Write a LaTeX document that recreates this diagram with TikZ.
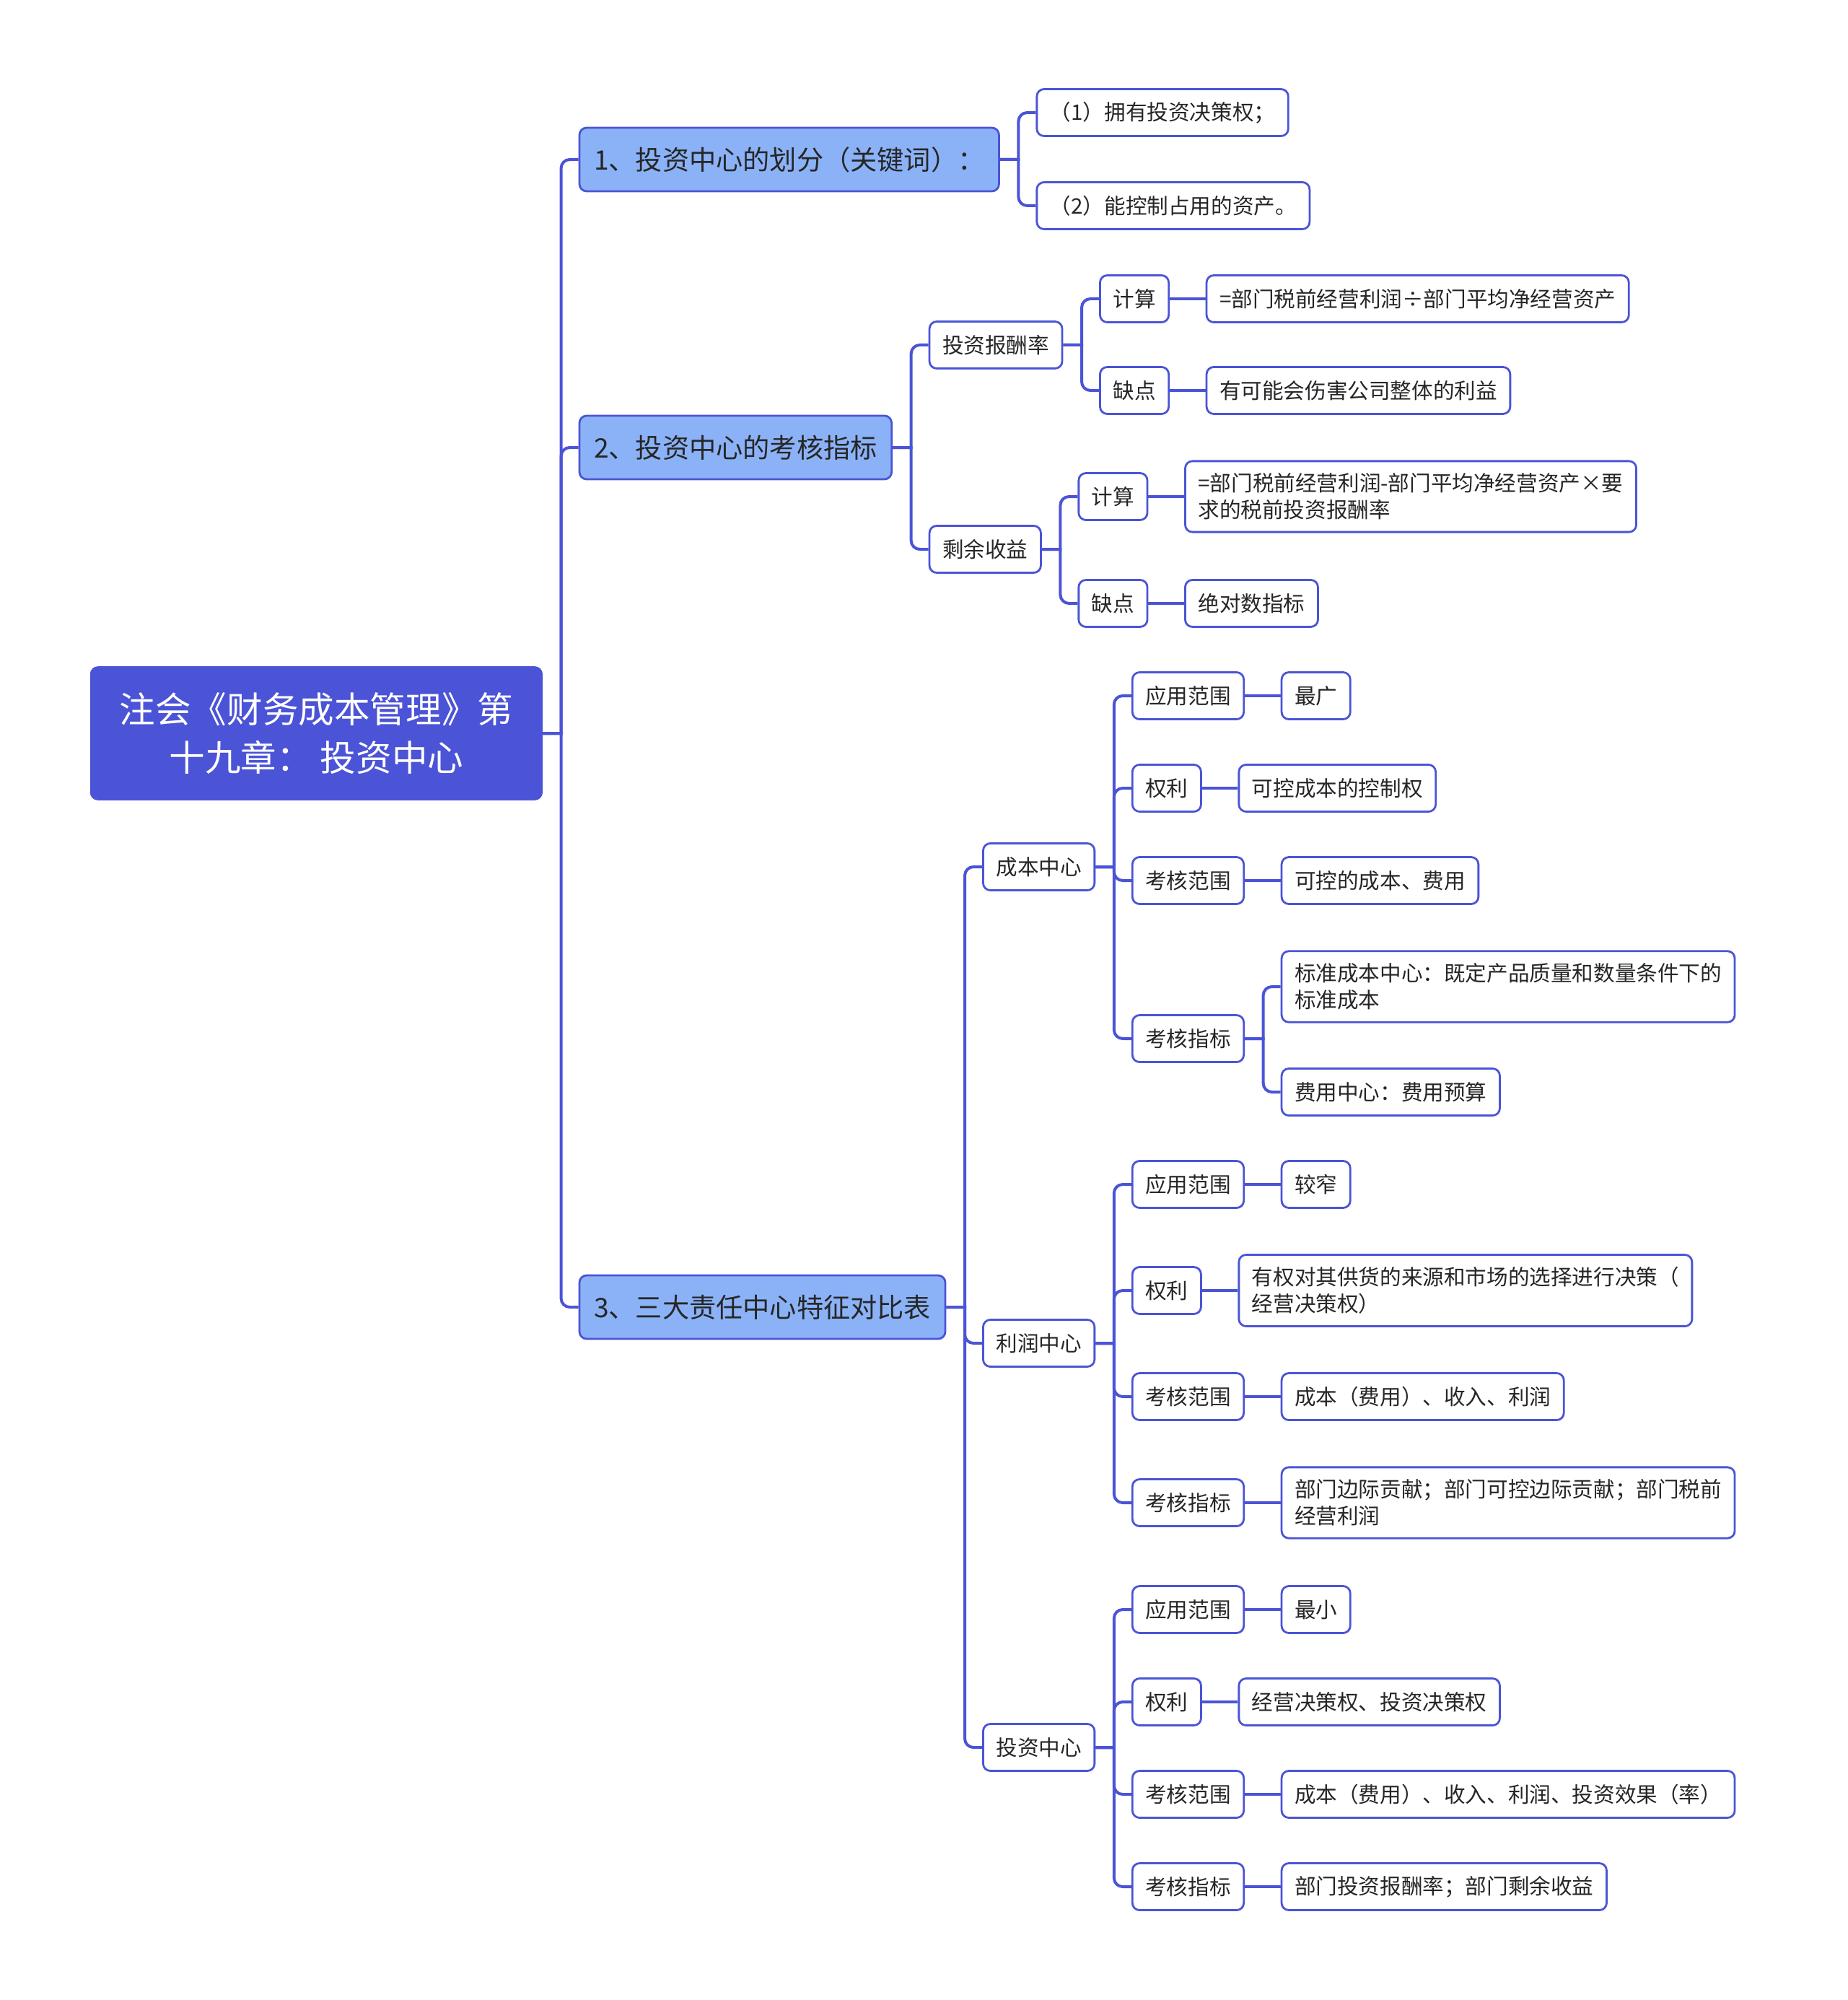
\documentclass[tikz,border=0pt]{standalone}
\usepackage{fontspec}
\setmainfont{Noto Sans CJK SC}
\definecolor{deepblue}{RGB}{75,84,214}
\definecolor{skyblue}{RGB}{139,178,247}
\definecolor{inkgray}{RGB}{38,38,38}
\colorlet{edge}{deepblue}
\usetikzlibrary{positioning}

\begin{document}
\begin{tikzpicture}[
  rootbox/.style={fill=deepblue, draw=deepblue, text=white, rounded corners=2.5pt,
    align=center, inner xsep=10pt, minimum height=46pt,
    font=\fontsize{12.4}{16.8}\selectfont},
  topicbox/.style={fill=skyblue, draw=edge, line width=0.7pt, text=inkgray,
    rounded corners=2.5pt, inner xsep=5pt, minimum height=22pt,
    font=\fontsize{9.3}{11}\selectfont},
  itembox/.style={fill=white, draw=edge, line width=0.7pt, text=inkgray,
    rounded corners=2.5pt, inner xsep=4.5pt, inner ysep=4.2pt, minimum height=16.25pt,
    align=left, font=\fontsize{7.4}{9.3}\selectfont},
  link/.style={draw=edge, line width=1pt},
  node distance=12.4pt,
]
  \useasboundingbox (0,0) rectangle (640pt,-692.75pt);

  % root and first level
  \node[rootbox] (root) at (109.6pt,-254pt) {注会《财务成本管理》第\\十九章： 投资中心};
  \node[topicbox, right=of root, yshift=198.75pt] (t1) {1、投资中心的划分（关键词）：};
  \node[topicbox, right=of root, yshift=99pt] (t2) {2、投资中心的考核指标};
  \node[topicbox, right=of root, yshift=-198.75pt] (t3) {3、三大责任中心特征对比表};

  % 1
  \node[itembox, right=of t1, yshift=16.25pt] (t1a) {（1）拥有投资决策权；};
  \node[itembox, right=of t1, yshift=-16pt] (t1b) {（2）能控制占用的资产。};

  % 2
  \node[itembox, right=of t2, yshift=35.5pt] (roi) {投资报酬率};
  \node[itembox, right=of roi, yshift=16pt] (roiA) {计算};
  \node[itembox, right=of roi, yshift=-15.75pt] (roiB) {缺点};
  \node[itembox, right=of roiA] (roiAx) {=部门税前经营利润÷部门平均净经营资产};
  \node[itembox, right=of roiB] (roiBx) {有可能会伤害公司整体的利益};
  \node[itembox, right=of t2, yshift=-35.25pt] (ri) {剩余收益};
  \node[itembox, right=of ri, yshift=18.25pt] (riA) {计算};
  \node[itembox, right=of ri, yshift=-18.75pt] (riB) {缺点};
  \node[itembox, right=of riA] (riAx) {=部门税前经营利润-部门平均净经营资产×要\\求的税前投资报酬率};
  \node[itembox, right=of riB] (riBx) {绝对数指标};

  % 3: cost centre
  \node[itembox, right=of t3, yshift=152.5pt] (cost) {成本中心};
  \node[itembox, right=of cost, yshift=59.25pt] (costA) {应用范围};
  \node[itembox, right=of cost, yshift=27.25pt] (costB) {权利};
  \node[itembox, right=of cost, yshift=-4.75pt] (costC) {考核范围};
  \node[itembox, right=of cost, yshift=-59.5pt] (costD) {考核指标};
  \node[itembox, right=of costA] (costAx) {最广};
  \node[itembox, right=of costB] (costBx) {可控成本的控制权};
  \node[itembox, right=of costC] (costCx) {可控的成本、费用};
  \node[itembox, right=of costD, yshift=18pt] (costDx) {标准成本中心：既定产品质量和数量条件下的\\标准成本};
  \node[itembox, right=of costD, yshift=-18.5pt] (costDy) {费用中心：费用预算};

  % 3: profit centre
  \node[itembox, right=of t3, yshift=-12.5pt] (profit) {利润中心};
  \node[itembox, right=of profit, yshift=55pt] (profitA) {应用范围};
  \node[itembox, right=of profit, yshift=18.25pt] (profitB) {权利};
  \node[itembox, right=of profit, yshift=-18.5pt] (profitC) {考核范围};
  \node[itembox, right=of profit, yshift=-55.25pt] (profitD) {考核指标};
  \node[itembox, right=of profitA] (profitAx) {较窄};
  \node[itembox, right=of profitB] (profitBx) {有权对其供货的来源和市场的选择进行决策（\\经营决策权）};
  \node[itembox, right=of profitC] (profitCx) {成本（费用）、收入、利润};
  \node[itembox, right=of profitD] (profitDx) {部门边际贡献；部门可控边际贡献；部门税前\\经营利润};

  % 3: investment centre
  \node[itembox, right=of t3, yshift=-152.5pt] (invest) {投资中心};
  \node[itembox, right=of invest, yshift=47.75pt] (investA) {应用范围};
  \node[itembox, right=of invest, yshift=15.75pt] (investB) {权利};
  \node[itembox, right=of invest, yshift=-16.25pt] (investC) {考核范围};
  \node[itembox, right=of invest, yshift=-48.25pt] (investD) {考核指标};
  \node[itembox, right=of investA] (investAx) {最小};
  \node[itembox, right=of investB] (investBx) {经营决策权、投资决策权};
  \node[itembox, right=of investC] (investCx) {成本（费用）、收入、利润、投资效果（率）};
  \node[itembox, right=of investD] (investDx) {部门投资报酬率；部门剩余收益};

  % branching connectors
  \foreach \p/\c in {root/t1, root/t2, root/t3, t1/t1a, t1/t1b,
      t2/roi, t2/ri, roi/roiA, roi/roiB, ri/riA, ri/riB,
      t3/cost, t3/profit, t3/invest,
      cost/costA, cost/costB, cost/costC, cost/costD, costD/costDx, costD/costDy,
      profit/profitA, profit/profitB, profit/profitC, profit/profitD,
      invest/investA, invest/investB, invest/investC, invest/investD}
    \draw[link] (\p.east) -- ++(6.4pt,0) [rounded corners=3pt] |- (\c.west);
  % straight connectors
  \foreach \p/\c in {roiA/roiAx, roiB/roiBx, riA/riAx, riB/riBx,
      costA/costAx, costB/costBx, costC/costCx,
      profitA/profitAx, profitB/profitBx, profitC/profitCx, profitD/profitDx,
      investA/investAx, investB/investBx, investC/investCx, investD/investDx}
    \draw[link] (\p.east) -- (\c.west);
\end{tikzpicture}
\end{document}
